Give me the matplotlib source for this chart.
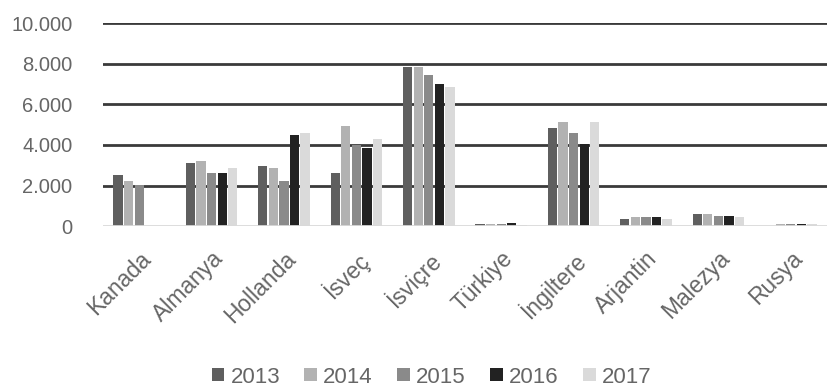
import numpy as np
import matplotlib.pyplot as plt

plt.rcParams['font.family'] = ['Liberation Sans', 'DejaVu Sans']

countries = ["Kanada", "Almanya", "Hollanda", "İsveç", "İsviçre",
             "Türkiye", "İngiltere", "Arjantin", "Malezya", "Rusya"]
years = ["2013", "2014", "2015", "2016", "2017"]

v2013 = [2510, 3100, 2960, 2610, 7830, 130, 4830, 350, 590, 0]
v2014 = [2200, 3200, 2850, 4930, 7830, 100, 5140, 450, 580, 90]
v2015 = [2050, 2610, 2200, 3990, 7440, 120, 4590, 450, 480, 100]
v2016 = [0, 2600, 4480, 3840, 6990, 150, 4040, 450, 480, 130]
v2017 = [0, 2850, 4590, 4280, 6850, 80, 5140, 330, 450, 90]
series = [v2013, v2014, v2015, v2016, v2017]
colors = ["#5f5f5f", "#b2b2b2", "#8a8a8a", "#222222", "#dadada"]

fig = plt.figure(figsize=(8.27, 3.9), dpi=100)
ax = fig.add_axes([0.1245, 0.42, 0.8755, 0.521])

x = np.arange(len(countries))
slot = 0.146
for i, vals in enumerate(series):
    ax.bar(x + (i - 2) * slot, vals, width=0.128, color=colors[i],
           label=years[i], zorder=2)

ax.set_xlim(-0.5, len(countries) - 0.5)
ax.set_ylim(0, 10000)
ax.set_yticks(range(0, 10001, 2000))
ax.set_yticklabels(["0", "2.000", "4.000", "6.000", "8.000", "10.000"])
for yv in range(2000, 10001, 2000):
    ax.axhline(yv, color="#3a3a3a", lw=2, zorder=1)
ax.axhline(0, color="#d9d9d9", lw=2, zorder=3)

for s in ax.spines.values():
    s.set_visible(False)
ax.tick_params(axis="both", length=0, colors="#666666")
ax.tick_params(axis="y", pad=22, labelsize=14.5)
ax.set_xticks(x)
ax.set_xticklabels(countries, rotation=45, ha="right", rotation_mode="anchor")
ax.tick_params(axis="x", pad=15, labelsize=16.5)

fig.legend(loc="center", bbox_to_anchor=(0.522, 0.033), ncol=5, frameon=False,
           fontsize=16, handlelength=0.55, handleheight=0.55,
           handletextpad=0.3, columnspacing=1.1, labelcolor="#666666")

fig.savefig("out.png", dpi=100)
